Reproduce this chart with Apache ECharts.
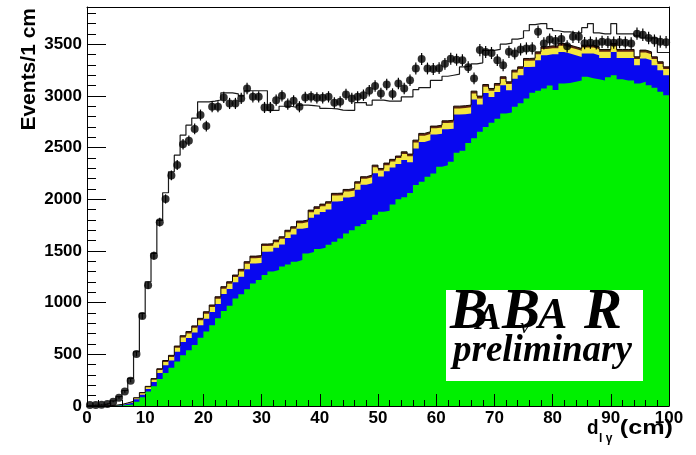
<!DOCTYPE html>
<html>
<head>
<meta charset="utf-8">
<script src="https://cdn.jsdelivr.net/npm/echarts@6/dist/echarts.min.js"></script>
<style>
  html, body { margin: 0; padding: 0; background: #fff; }
  #chart { width: 696px; height: 455px; }
</style>
</head>
<body>
<div id="chart"></div>
<script>
// d_{l gamma} distribution, 100 bins of 1 cm from 0 to 100 cm
const binEdges = [];
for (let i = 0; i <= 100; i++) binEdges.push(i);

// Data (events per bin)
const dataCounts = [
  10, 10, 12, 19, 42, 80, 140, 245, 503, 870,
  1167, 1454, 1778, 2003, 2230, 2331, 2532, 2566, 2680, 2815,
  2708, 2895, 2895, 2985, 2927, 2927, 2975, 3072, 2991, 2991,
  2888, 2888, 2959, 3001, 2920, 2952, 2895, 2985, 2991, 2981,
  2981, 2991, 2933, 2943, 3014, 2975, 2991, 3007, 3050, 3095,
  3024, 3110, 3018, 3120, 3072, 3152, 3265, 3358, 3265, 3260,
  3268, 3310, 3360, 3350, 3346, 3278, 3169, 3443, 3425, 3415,
  3346, 3297, 3426, 3410, 3450, 3459, 3460, 3620, 3507, 3545,
  3530, 3550, 3480, 3571, 3571, 3510, 3515, 3507, 3523, 3520,
  3515, 3520, 3515, 3507, 3602, 3592, 3560, 3535, 3525, 3520
];

// Open (unfilled) histogram
const openHist = [
  5, 8, 12, 25, 50, 90, 150, 268, 525, 896,
  1202, 1476, 1795, 2063, 2266, 2427, 2620, 2717, 2785, 2943,
  2943, 2950, 2960, 3030, 3030, 3020, 3000, 3050, 3050, 3050,
  3050, 2860, 2860, 2900, 2900, 2890, 2910, 2910, 2905, 2900,
  2880, 2878, 2875, 2862, 2860, 2860, 2935, 2935, 2911, 2959,
  2959, 2950, 2950, 2950, 2990, 2990, 3060, 3080, 3080, 3150,
  3150, 3190, 3200, 3210, 3280, 3290, 3310, 3320, 3440, 3440,
  3450, 3500, 3510, 3550, 3560, 3630, 3690, 3700, 3700, 3650,
  3630, 3620, 3620, 3610, 3610, 3660, 3700, 3610, 3600, 3600,
  3700, 3600, 3600, 3600, 3580, 3560, 3560, 3560, 3420, 3420
];

// Stacked components, bottom to top
const greenComp = [
  0, 0, 0, 0, 2, 5, 10, 15, 40, 85,
  140, 190, 260, 320, 370, 430, 490, 540, 590, 660,
  720, 780, 850, 920, 970, 1040, 1080, 1130, 1186, 1220,
  1267, 1300, 1315, 1350, 1370, 1395, 1412, 1476, 1490, 1520,
  1530, 1560, 1589, 1620, 1670, 1700, 1740, 1760, 1800, 1850,
  1880, 1890, 1950, 2000, 2020, 2060, 2137, 2170, 2218, 2250,
  2314, 2330, 2363, 2450, 2470, 2545, 2590, 2653, 2700, 2740,
  2780, 2830, 2840, 2894, 2930, 2975, 3030, 3050, 3072, 3100,
  3056, 3120, 3125, 3136, 3150, 3185, 3170, 3160, 3150, 3180,
  3200, 3160, 3150, 3150, 3120, 3136, 3104, 3080, 3039, 3007
];
const blueComp = [
  0, 0, 1, 3, 3, 5, 12, 19, 25, 25,
  24, 43, 60, 74, 70, 96, 130, 117, 122, 122,
  124, 129, 137, 164, 162, 157, 170, 194, 192, 163,
  225, 195, 215, 212, 255, 264, 302, 248, 330, 332,
  348, 341, 390, 362, 347, 327, 351, 380, 356, 402,
  340, 382, 358, 340, 361, 299, 353, 385, 353, 376,
  321, 347, 320, 369, 353, 284, 374, 263, 328, 250,
  258, 273, 214, 273, 269, 305, 253, 294, 321, 302,
  346, 305, 284, 257, 227, 224, 239, 233, 217, 187,
  225, 207, 217, 217, 176, 225, 240, 216, 209, 192
];
const yellowComp = [
  0, 0, 0, 0, 2, 3, 5, 7, 10, 14,
  18, 22, 28, 32, 35, 38, 42, 45, 45, 48,
  48, 48, 50, 50, 50, 50, 52, 52, 52, 52,
  55, 55, 55, 55, 55, 55, 55, 55, 55, 55,
  55, 55, 58, 58, 58, 58, 58, 58, 58, 58,
  58, 58, 58, 58, 58, 58, 60, 60, 60, 60,
  60, 60, 60, 60, 60, 60, 60, 60, 60, 60,
  60, 60, 60, 60, 60, 60, 60, 60, 60, 60,
  60, 60, 60, 60, 60, 60, 60, 60, 60, 60,
  60, 60, 60, 60, 60, 60, 60, 60, 60, 60
];
const brownComp = [
  0, 0, 0, 0, 1, 2, 3, 4, 5, 6,
  8, 10, 12, 14, 15, 16, 18, 18, 18, 18,
  20, 20, 20, 20, 20, 20, 20, 20, 20, 20,
  20, 20, 20, 20, 20, 20, 20, 20, 20, 20,
  20, 20, 20, 20, 20, 20, 20, 20, 20, 20,
  20, 20, 20, 20, 20, 20, 22, 22, 22, 22,
  22, 22, 22, 22, 22, 22, 22, 22, 22, 22,
  22, 22, 22, 22, 22, 22, 22, 22, 22, 22,
  22, 22, 22, 22, 22, 22, 22, 22, 22, 22,
  22, 22, 22, 22, 22, 22, 22, 22, 22, 22
];

const xTicks = [0, 10, 20, 30, 40, 50, 60, 70, 80, 90, 100];
const yTicks = [0, 500, 1000, 1500, 2000, 2500, 3000, 3500];

// Running sums of the stack: each layer's top edge
const layers = [greenComp, blueComp, yellowComp, brownComp];
const layerTops = [];
layers.forEach((arr, k) => {
  layerTops.push(arr.map((v, i) => v + (k > 0 ? layerTops[k - 1][i] : 0)));
});

// Turn bin contents into step-line points at the bin edges
function stepPoints(arr) {
  const pts = arr.map((v, i) => [binEdges[i], v]);
  pts.push([binEdges[arr.length], arr[arr.length - 1]]);
  return pts;
}

const labelFont = { fontFamily: '"Liberation Sans", Arial, sans-serif', fontWeight: 'bold', fontSize: 17, color: '#000' };

// Filled step area from zero up to a layer's top; upper layers are drawn first
function stackLayer(name, tops, color, line) {
  return {
    name: name, type: 'line', step: 'end',
    data: stepPoints(tops), symbol: 'none', silent: true,
    lineStyle: line || { width: 0, opacity: 0 },
    areaStyle: { color: color, opacity: 1, origin: 'start' },
    z: 2
  };
}

const chart = echarts.init(document.getElementById('chart'), null, { renderer: 'canvas' });

const logoFont = '"Liberation Serif", "Times New Roman", serif';
const titleFont = '"Liberation Sans", Arial, sans-serif';

chart.setOption({
  animation: false,
  backgroundColor: '#fff',
  grid: { left: 87, right: 27, top: 7, bottom: 49, containLabel: false },
  xAxis: [
    {
      type: 'value', min: xTicks[0], max: xTicks[xTicks.length - 1], interval: 10, position: 'bottom', z: 10,
      axisLine: { show: true, onZero: false, lineStyle: { color: '#000', width: 1 } },
      axisTick: { show: true, inside: true, length: 12, lineStyle: { color: '#000', width: 1 } },
      minorTick: { show: true, splitNumber: 5, length: 6, lineStyle: { color: '#000', width: 1 } },
      axisLabel: Object.assign({ margin: 4 }, labelFont),
      splitLine: { show: false }
    },
    {
      type: 'value', min: 0, max: 100, position: 'top', z: 10,
      axisLine: { show: true, onZero: false, lineStyle: { color: '#000', width: 1 } },
      axisTick: { show: false }, axisLabel: { show: false }, splitLine: { show: false }
    }
  ],
  yAxis: [
    {
      type: 'value', min: 0, max: 3860, interval: 500, position: 'left', z: 10,
      axisLine: { show: true, onZero: false, lineStyle: { color: '#000', width: 1 } },
      axisTick: { show: true, inside: true, length: 19, lineStyle: { color: '#000', width: 1 } },
      axisLabel: Object.assign({ margin: 5, showMaxLabel: false,
        formatter: v => (yTicks.indexOf(v) >= 0 ? String(v) : '') }, labelFont),
      splitLine: { show: false }
    },
    {
      type: 'value', min: 0, max: 3860, interval: 100, position: 'left', z: 10,
      axisLine: { show: false },
      axisTick: { show: true, inside: true, length: 9, lineStyle: { color: '#000', width: 1 } },
      axisLabel: { show: false }, splitLine: { show: false }
    },
    {
      type: 'value', min: 0, max: 3860, position: 'right', z: 10,
      axisLine: { show: true, onZero: false, lineStyle: { color: '#000', width: 1 } },
      axisTick: { show: false }, axisLabel: { show: false }, splitLine: { show: false }
    }
  ],
  series: [
    stackLayer('brown', layerTops[3], '#5e2412', { color: '#140800', width: 1 }),
    stackLayer('yellow', layerTops[2], '#f4e640'),
    stackLayer('blue', layerTops[1], '#0808f0'),
    stackLayer('green', layerTops[0], '#00f000'),
    {
      name: 'open', type: 'line', step: 'end', data: stepPoints(openHist),
      symbol: 'none', silent: true, z: 3,
      lineStyle: { color: '#1a1a1a', width: 1.2 }
    },
    {
      name: 'errors', type: 'custom', z: 4, silent: true,
      data: dataCounts.map((v, i) => [(binEdges[i] + binEdges[i + 1]) / 2, v, Math.sqrt(v)]),
      renderItem: function (params, api) {
        const x = api.value(0), y = api.value(1), e = api.value(2);
        const p1 = api.coord([x, y + e]);
        const p2 = api.coord([x, Math.max(0, y - e)]);
        return { type: 'line', shape: { x1: p1[0], y1: p1[1], x2: p2[0], y2: p2[1] },
                 style: { stroke: '#000', lineWidth: 1.2 } };
      }
    },
    {
      name: 'data', type: 'scatter', z: 5, silent: true,
      data: dataCounts.map((v, i) => [(binEdges[i] + binEdges[i + 1]) / 2, v]),
      symbol: 'circle', symbolSize: 8,
      itemStyle: { color: '#000' }
    }
  ],
  graphic: [
    {
      type: 'text', x: 29, y: 8, rotation: Math.PI / 2, z: 100,
      style: { text: 'Events/1 cm', fill: '#000', font: 'bold 21px ' + titleFont,
               textAlign: 'right', textVerticalAlign: 'middle' }
    },
    {
      type: 'text', x: 587, y: 428, z: 100, scaleX: 0.9,
      style: { text: 'd', fill: '#000', font: 'bold 21px ' + titleFont,
               textAlign: 'left', textVerticalAlign: 'middle' }
    },
    {
      type: 'text', x: 599, y: 439, z: 100,
      style: { text: 'l γ', fill: '#000', font: 'bold 12px ' + titleFont,
               textAlign: 'left', textVerticalAlign: 'middle' }
    },
    {
      type: 'text', x: 673, y: 428, z: 100, scaleX: 1.2,
      style: { text: '(cm)', fill: '#000', font: 'bold 21px ' + titleFont,
               textAlign: 'right', textVerticalAlign: 'middle' }
    },
    { type: 'rect', z: 100, shape: { x: 446, y: 290, width: 197, height: 91 }, style: { fill: '#fff' } },
    { type: 'text', z: 101, x: 450, y: 313, style: { text: 'B', fill: '#000', font: 'bold italic 57px ' + logoFont, textVerticalAlign: 'middle' } },
    { type: 'text', z: 101, x: 476, y: 319, style: { text: 'A', fill: '#000', font: 'bold italic 38px ' + logoFont, textVerticalAlign: 'middle' } },
    { type: 'text', z: 101, x: 502, y: 313, style: { text: 'B', fill: '#000', font: 'bold italic 57px ' + logoFont, textVerticalAlign: 'middle' } },
    { type: 'text', z: 101, x: 538, y: 317, style: { text: 'A', fill: '#000', font: 'bold italic 44px ' + logoFont, textVerticalAlign: 'middle' } },
    { type: 'text', z: 101, x: 520, y: 327, style: { text: 'ν', fill: '#000', font: 'italic 22px ' + logoFont, textVerticalAlign: 'middle' } },
    { type: 'text', z: 101, x: 584, y: 313, style: { text: 'R', fill: '#000', font: 'bold italic 57px ' + logoFont, textVerticalAlign: 'middle' } },
    { type: 'text', z: 101, x: 453, y: 351, style: { text: 'preliminary', fill: '#000', font: 'bold italic 37px ' + logoFont, textVerticalAlign: 'middle' } }
  ]
});
</script>
</body>
</html>
